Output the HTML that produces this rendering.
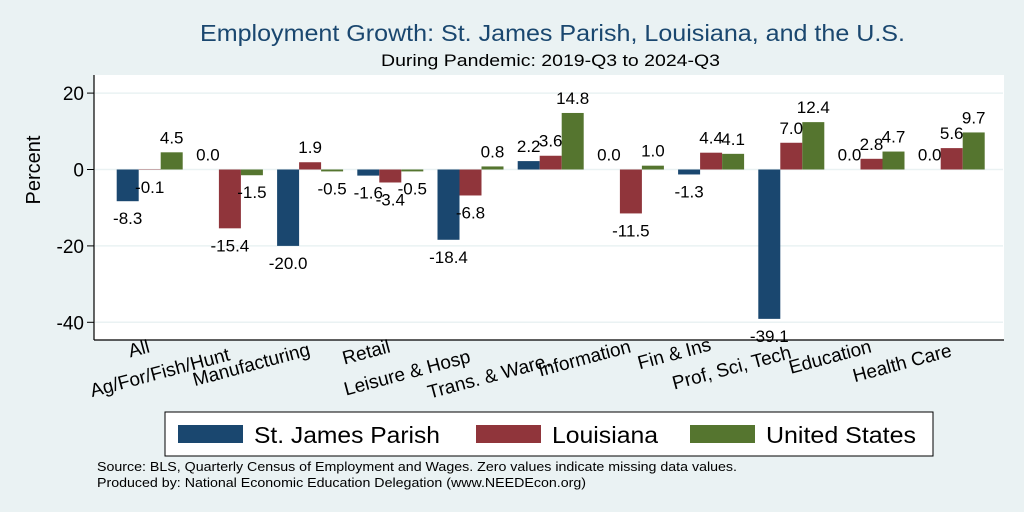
<!DOCTYPE html>
<html><head><meta charset="utf-8"><style>
body{margin:0;background:#eaf2f3;}
svg{display:block;font-family:"Liberation Sans",Arial,sans-serif;}
</style></head><body>
<svg id="chart" width="1024" height="512">
<rect x="0" y="0" width="1024" height="512" fill="#eaf2f3"/>
<text x="200" y="41" font-size="23" fill="#1a476f" textLength="705" lengthAdjust="spacingAndGlyphs">Employment Growth: St. James Parish, Louisiana, and the U.S.</text>
<text x="381" y="66" font-size="17" fill="#000" textLength="339" lengthAdjust="spacingAndGlyphs">During Pandemic: 2019-Q3 to 2024-Q3</text>
<rect x="94" y="75" width="910" height="265" fill="#fff"/>
<g id="grid"></g>
<g id="bars"></g>
<g id="labels"></g>
<line x1="94" y1="75" x2="94" y2="340" stroke="#000" stroke-width="1.2"/>
<line x1="94" y1="340" x2="1004" y2="340" stroke="#000" stroke-width="1.2"/>
<g id="yticks"></g>
<g id="xticks"></g>
<text transform="translate(40,170) rotate(-90)" text-anchor="middle" font-size="20">Percent</text>
<g>
<rect x="165" y="412" width="768" height="44" fill="#fff" stroke="#000" stroke-width="1"/>
<rect x="178" y="425" width="65" height="18" fill="#1a476f"/>
<text x="254" y="443" font-size="23" textLength="186" lengthAdjust="spacingAndGlyphs">St. James Parish</text>
<rect x="476" y="425" width="65" height="18" fill="#90353b"/>
<text x="552" y="443" font-size="23" textLength="106" lengthAdjust="spacingAndGlyphs">Louisiana</text>
<rect x="690" y="425" width="65" height="18" fill="#55752f"/>
<text x="766" y="443" font-size="23" textLength="150" lengthAdjust="spacingAndGlyphs">United States</text>
</g>
<text x="97" y="471" font-size="13" textLength="640" lengthAdjust="spacingAndGlyphs">Source: BLS, Quarterly Census of Employment and Wages. Zero values indicate missing data values.</text>
<text x="97" y="487" font-size="13" textLength="489" lengthAdjust="spacingAndGlyphs">Produced by: National Economic Education Delegation (www.NEEDEcon.org)</text>
</svg>
<script>
const categories=["All","Ag/For/Fish/Hunt","Manufacturing","Retail","Leisure & Hosp","Trans. & Ware.","Information","Fin & Ins","Prof, Sci, Tech","Education","Health Care"];
const stJames=[-8.3,0.0,-20.0,-1.6,-18.4,2.2,0.0,-1.3,-39.1,0.0,0.0];
const louisiana=[-0.1,-15.4,1.9,-3.4,-6.8,3.6,-11.5,4.4,7.0,2.8,5.6];
const unitedStates=[4.5,-1.5,-0.5,-0.5,0.8,14.8,1.0,4.1,12.4,4.7,9.7];
const yTicks=[20,0,-20,-40];
const seriesList=[stJames,louisiana,unitedStates];
const seriesNames=["st-james","louisiana","us"];
const colors=["#1a476f","#90353b","#55752f"];
const labelBaselineY=[352,360,355,352,362,366,352,350,358,352,356];
const NS="http://www.w3.org/2000/svg";
function y(v){return 169.5-v*3.82;}
function xc(i){return 149.7+i*80.2;}
const bw=22;
function mk(tag,attrs,parent){const e=document.createElementNS(NS,tag);for(const k in attrs)e.setAttribute(k,attrs[k]);parent.appendChild(e);return e;}
const grid=document.getElementById('grid'),yt=document.getElementById('yticks');
yTicks.forEach(t=>{
 const g=mk('line',{x1:95,x2:1003,y1:y(t),y2:y(t),stroke:'#eaf2f3','stroke-width':1.5},grid);
 
 
 const tk=mk('line',{x1:87,x2:94,y1:y(t),y2:y(t),stroke:'#000'},yt);
 
 
 const tx=mk('text',{x:84,y:y(t)+7,'text-anchor':'end','font-size':19},yt);
 tx.textContent=t;
 
 
});
const bars=document.getElementById('bars'),labels=document.getElementById('labels'),xt=document.getElementById('xticks');
categories.forEach((c,i)=>{
 seriesList.forEach((s,j)=>{
  const v=s[i];const x0=xc(i)+(j-1)*bw-bw/2;
  const r=mk('rect',{x:x0,y:Math.min(y(0),y(v)),width:bw,height:Math.abs(y(v)-y(0)),fill:colors[j]},bars);
  
  
  const ly=v>=0?y(v)-9:y(v)+23;
  const l=mk('text',{x:x0+bw/2,y:ly,'text-anchor':'middle','font-size':17},labels);
  l.textContent=v.toFixed(1);
  
  
 });
 const xl=mk('text',{transform:'translate('+(xc(i)+1)+','+labelBaselineY[i]+') rotate(-15)','text-anchor':'end','font-size':19},xt);
 xl.textContent=c;
 
 
});
</script>
</body></html>
